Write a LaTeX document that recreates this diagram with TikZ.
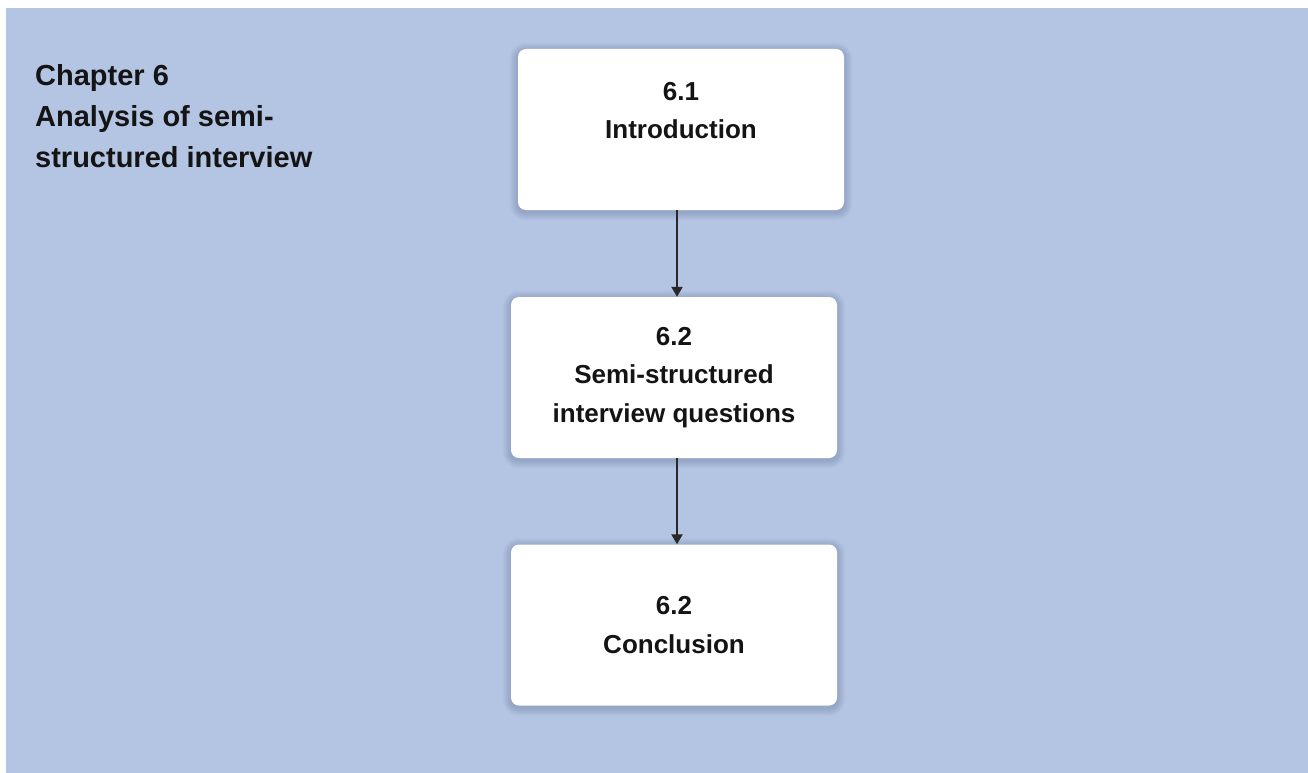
\documentclass[tikz,border=0pt]{standalone}
\usepackage{fontspec}
\setmainfont{Liberation Sans}
\usetikzlibrary{arrows.meta,backgrounds}
\definecolor{bgblue}{RGB}{180,197,227}
\definecolor{shadeblue}{RGB}{70,90,130}
\definecolor{linegray}{RGB}{40,40,40}
\definecolor{inktext}{RGB}{20,20,20}
\begin{document}
\begin{tikzpicture}[x=1pt,y=-1pt,
  stepbox/.style={fill=white, rounded corners=8pt, minimum width=326pt,
    minimum height=161pt, inner sep=0pt, align=center, text=inktext,
    font=\bfseries\fontsize{26}{38.5}\selectfont},
  halo/.style={fill=shadeblue, fill opacity=0.035},
  titletext/.style={anchor=north west, inner sep=0pt, align=left, text=inktext,
    font=\bfseries\fontsize{29}{41}\selectfont},
  link/.style={-{Triangle[width=11pt,length=10pt]}, line width=2.2pt, draw=linegray}]
  % chapter heading
  \node[titletext] (title) at (35,64) {Chapter 6\\Analysis of semi-\\structured interview};

  % section boxes
  \node[stepbox] (b1) at (681,129.5) {6.1\\Introduction\\\mbox{}};
  \node[stepbox] (b2) at (674,377.5) {6.2\\Semi-structured\\interview questions};
  \node[stepbox] (b3) at (674,625) {6.2\\Conclusion};

  % page, panel and soft shadows behind the boxes
  \begin{scope}[on background layer]
    \fill[white] (0,0) rectangle (1308,773);
    \fill[bgblue] (6,8) rectangle (1308,773);
    \foreach \n in {b1,b2,b3}
      \foreach \d in {1,...,8}
        \fill[halo, rounded corners=8pt+\d pt]
          ([shift={(-\d,-\d+2)}]\n.north west) rectangle ([shift={(\d,\d+2)}]\n.south east);
  \end{scope}
  \useasboundingbox (0,0) rectangle (1308,773);

  % connectors
  \coordinate (ax) at (677,0);
  \draw[link] (b1.south -| ax) -- (b2.north -| ax);
  \draw[link] (b2.south -| ax) -- (b3.north -| ax);
\end{tikzpicture}
\end{document}
